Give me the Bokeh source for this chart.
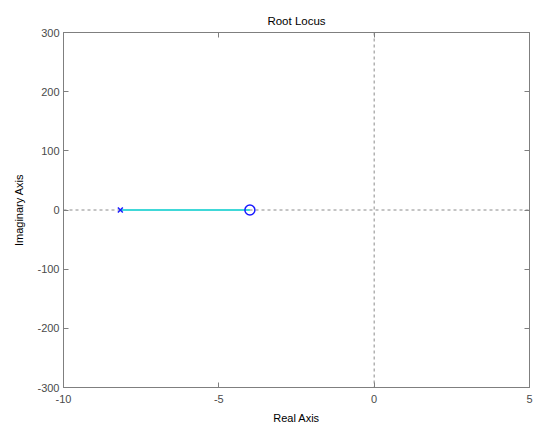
from bokeh.plotting import figure
from bokeh.models import Span, LinearAxis, FixedTicker, CustomJSTickFormatter
from bokeh.embed import file_html
from bokeh.resources import INLINE

# data
poles_re = [-8.17]
poles_im = [0]
zeros_re = [-4.0]
zeros_im = [0]
locus_re = [-8.17, -4.0]
locus_im = [0, 0]
x_ticks = [-10, -5, 0, 5]
y_ticks = [-300, -200, -100, 0, 100, 200, 300]

FONT = "Liberation Sans"
AX = "#7f7f7f"

p = figure(width=534, height=428, output_backend="svg", toolbar_location=None,
           x_range=(-10, 5), y_range=(-300, 300),
           min_border_left=63, min_border_right=5, min_border_top=32, min_border_bottom=41,
           x_axis_label="Real Axis", y_axis_label="Imaginary Axis", title="Root Locus")
p.title.align = "center"
p.title.text_font = FONT
p.title.text_font_size = "11.5px"
p.title.text_font_style = "normal"
p.title.text_color = "#000000"
p.title.offset = 0
p.title.standoff = 12

p.grid.visible = False
p.outline_line_color = AX
p.outline_line_width = 1
p.background_fill_color = "white"
p.border_fill_color = "white"

plain = CustomJSTickFormatter(code="return tick.toString();")
for ax in [p.xaxis[0], p.yaxis[0]]:
    ax.axis_line_color = AX
    ax.major_tick_line_color = AX
    ax.minor_tick_line_color = None
    ax.major_tick_in = 5
    ax.major_tick_out = 0
    ax.formatter = plain
    ax.major_label_text_font = FONT
    ax.major_label_text_font_size = "11px"
    ax.major_label_text_color = "#4a4a4a"
    ax.axis_label_text_font = FONT
    ax.axis_label_text_font_size = "11px"
    ax.axis_label_text_font_style = "normal"
    ax.axis_label_text_color = "#000000"
p.xaxis[0].ticker = FixedTicker(ticks=x_ticks)
p.yaxis[0].ticker = FixedTicker(ticks=y_ticks)
p.xaxis[0].major_label_standoff = 7
p.yaxis[0].major_label_standoff = 4
p.xaxis[0].axis_label_standoff = 6
p.yaxis[0].axis_label_standoff = 9

top_ax = LinearAxis(ticker=FixedTicker(ticks=x_ticks), major_label_text_color=None,
                    axis_line_color=AX, major_tick_line_color=AX, major_tick_in=5, major_tick_out=0,
                    minor_tick_line_color=None, major_label_standoff=0)
right_ax = LinearAxis(ticker=FixedTicker(ticks=y_ticks), major_label_text_color=None,
                      axis_line_color=AX, major_tick_line_color=AX, major_tick_in=5, major_tick_out=0,
                      minor_tick_line_color=None, major_label_standoff=0)
p.add_layout(top_ax, "above")
p.add_layout(right_ax, "right")

p.add_layout(Span(location=0, dimension="width", line_color="#8a8a8a", line_dash="3 3",
                  line_width=1, level="underlay"))
p.add_layout(Span(location=0, dimension="height", line_color="#8a8a8a", line_dash="3 3",
                  line_width=1, level="underlay"))

p.line(locus_re, locus_im, line_color="#40d8d8", line_width=2)
p.scatter(poles_re, poles_im, marker="x", size=7, line_color="#1a1aff", line_width=1.5)
p.scatter(zeros_re, zeros_im, marker="circle", size=10, fill_color=None, line_color="#1a1aff", line_width=1.5)

open("out.html", "w").write(file_html(p, INLINE))
